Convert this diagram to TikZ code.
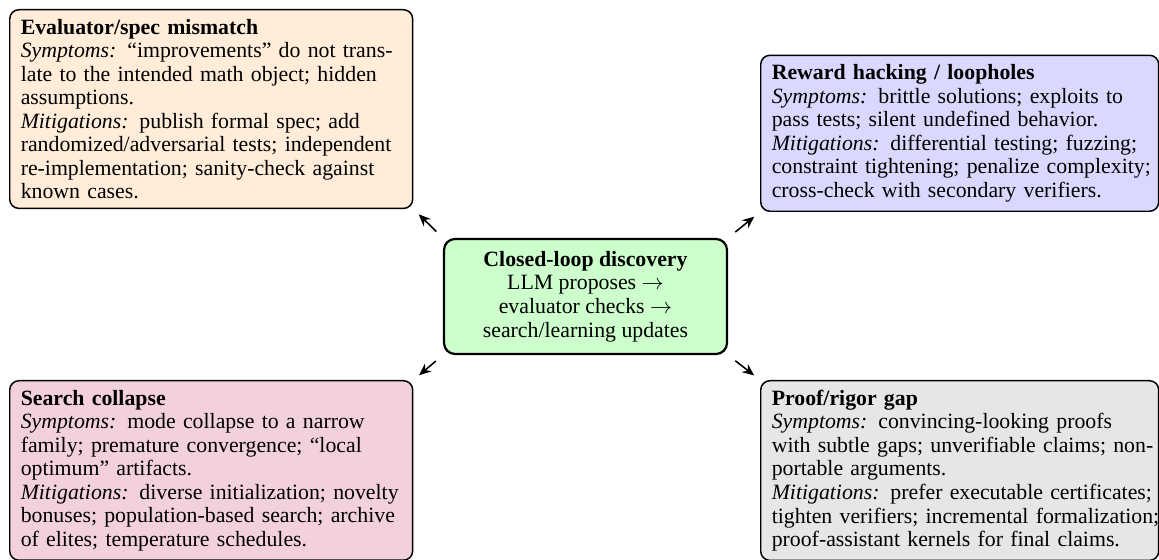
\documentclass[tikz,border=0pt]{standalone}
\usepackage{fontspec}
\setmainfont{Liberation Serif}
\usetikzlibrary{arrows.meta}
\newcommand\row[1]{\mbox{#1}}
\definecolor{evalfill}{RGB}{255,236,217}
\definecolor{rewardfill}{RGB}{217,217,255}
\definecolor{hubfill}{RGB}{204,255,204}
\definecolor{searchfill}{RGB}{242,208,220}
\definecolor{prooffill}{RGB}{230,230,230}
\begin{document}
\begin{tikzpicture}[x=0.5435pt,y=-0.5435pt,
  card/.style={draw=black, thick, rounded corners=5pt,
    align=left, inner xsep=6pt, inner ysep=5pt,
    font=\fontsize{11.85}{12.8}\selectfont},
  leftcard/.style={card, text width=207pt},
  rightcard/.style={card, text width=204.3pt},
  hub/.style={draw=black, very thick, rounded corners=6pt, fill=hubfill,
    align=center, minimum width=153.8pt, minimum height=62.5pt,
    font=\fontsize{11.85}{12.8}\selectfont},
  link/.style={-{Stealth[length=6.5pt,width=5.5pt]}, line width=0.85pt,
    shorten <=5pt, shorten >=4pt}]
\useasboundingbox (0,0) rectangle (1159,560);

% centre of the loop
\node[hub] (hub) at (585.5,296.5)
  {\textbf{Closed-loop discovery}\\ LLM proposes $\rightarrow$\\ evaluator checks $\rightarrow$\\ search/learning updates};

% failure modes around it
\node[leftcard, fill=evalfill, anchor=north west] (eval) at (9,9)
  {\row{\textbf{Evaluator/spec mismatch}}\\
   \row{\textit{Symptoms:} “improvements” do not trans-}\\
   \row{late to the intended math object; hidden}\\
   \row{assumptions.}\\
   \row{\textit{Mitigations:} publish formal spec; add}\\
   \row{randomized/adversarial tests; independent}\\
   \row{re-implementation; sanity-check against}\\
   \row{known cases.}};

\node[rightcard, fill=rewardfill, anchor=south west] (reward) at (760,212)
  {\row{\textbf{Reward hacking / loopholes}}\\
   \row{\textit{Symptoms:} brittle solutions; exploits to}\\
   \row{pass tests; silent undefined behavior.}\\
   \row{\textit{Mitigations:} differential testing; fuzzing;}\\
   \row{constraint tightening; penalize complexity;}\\
   \row{cross-check with secondary verifiers.}};

\node[leftcard, fill=searchfill, anchor=north west] (search) at (9,380)
  {\row{\textbf{Search collapse}}\\
   \row{\textit{Symptoms:} mode collapse to a narrow}\\
   \row{family; premature convergence; “local}\\
   \row{optimum” artifacts.}\\
   \row{\textit{Mitigations:} diverse initialization; novelty}\\
   \row{bonuses; population-based search; archive}\\
   \row{of elites; temperature schedules.}};

\node[rightcard, fill=prooffill, anchor=north west] (proof) at (760,380)
  {\row{\textbf{Proof/rigor gap}}\\
   \row{\textit{Symptoms:} convincing-looking proofs}\\
   \row{with subtle gaps; unverifiable claims; non-}\\
   \row{portable arguments.}\\
   \row{\textit{Mitigations:} prefer executable certificates;}\\
   \row{tighten verifiers; incremental formalization;}\\
   \row{proof-assistant kernels for final claims.}};

% arrows from the loop towards each failure mode
\draw[link] (hub.north west) -- (eval.south east);
\draw[link] (hub.north east) -- (reward.south west);
\draw[link] (hub.south west) -- (search.north east);
\draw[link] (hub.south east) -- (proof.north west);
\end{tikzpicture}
\end{document}
